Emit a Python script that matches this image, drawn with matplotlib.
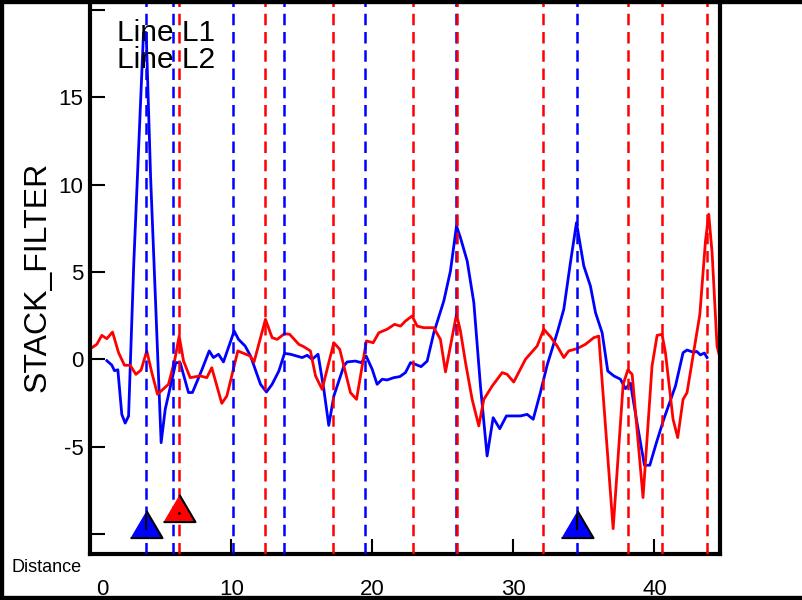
import matplotlib
matplotlib.use("Agg")
from matplotlib import pyplot as plt
from matplotlib.lines import Line2D

# trace L1 (blue)
dist_l1 = [1.16, 1.51, 1.70, 1.94, 2.22, 2.46, 2.70, 3.07, 3.76, 3.95, 4.26, 5.01, 5.30, 6.05,
           6.36, 6.95, 7.23, 7.90, 8.42, 8.72, 9.08, 9.43, 10.19, 10.50, 10.97, 11.35, 12.06,
           12.48, 12.88, 13.36, 13.76, 14.18, 15.01, 15.37, 15.72, 16.14, 16.55, 16.90, 17.26,
           17.97, 18.20, 18.79, 19.20, 19.55, 19.98, 20.33, 20.69, 21.04, 21.51, 21.94, 22.34,
           22.70, 23.05, 23.45, 23.88, 24.35, 25.06, 25.53, 25.96, 26.24, 26.72, 27.19, 27.66,
           28.13, 28.56, 29.03, 29.50, 30.50, 30.97, 31.40, 31.91, 32.40, 33.10, 33.57, 34.04,
           34.47, 34.99, 35.46, 35.82, 36.29, 36.69, 37.12, 37.59, 37.94, 38.30, 38.72, 39.29,
           39.67, 40.14, 40.66, 41.49, 42.03, 42.31, 42.78, 43.00, 43.26, 43.54, 43.73]
stack_l1 = [-0.08, -0.33, -0.65, -0.60, -3.15, -3.65, -3.25, 5.5, 18.7, 18.7, 10.5, -4.77, -2.86,
            -0.19, -0.19, -1.90, -1.90, -0.60, 0.48, 0.10, 0.29, -0.15, 1.62, 1.14, 0.76, 0.19,
            -1.43, -1.87, -1.43, -0.67, 0.34, 0.29, 0.10, 0.23, 0.00, 0.29, -1.72, -3.78, -2.10,
            -0.38, -0.15, -0.10, -0.19, 0.19, -0.57, -1.43, -1.14, -1.18, -1.05, -0.99, -0.76,
            -0.19, -0.29, -0.42, -0.10, 1.52, 3.34, 5.05, 7.63, 6.96, 5.62, 3.24, -1.53, -5.53,
            -3.34, -3.97, -3.24, -3.24, -3.15, -3.43, -1.90, -0.30, 1.52, 2.86, 5.53, 7.82, 5.34,
            4.19, 2.67, 1.52, -0.67, -0.95, -1.14, -1.68, -1.37, -3.43, -6.06, -6.06, -4.77,
            -3.43, -1.53, 0.38, 0.53, 0.40, 0.45, 0.25, 0.36, 0.10]

# trace L2 (red)
dist_l2 = [0.00, 0.45, 0.80, 1.16, 1.56, 1.99, 2.41, 2.81, 3.22, 3.59, 3.99, 4.35, 4.75, 5.53,
           5.96, 6.29, 6.60, 7.07, 7.78, 8.25, 8.60, 9.31, 9.67, 10.45, 11.32, 11.60, 12.41,
           12.88, 13.24, 13.76, 14.13, 14.77, 15.13, 15.60, 15.96, 16.43, 16.90, 17.26, 17.68,
           17.97, 18.44, 18.87, 19.57, 20.05, 20.45, 21.04, 21.56, 21.99, 22.34, 22.81, 23.17,
           23.64, 24.35, 24.82, 25.18, 25.53, 25.96, 26.24, 26.60, 27.07, 27.54, 27.90, 28.49,
           29.20, 29.55, 30.02, 30.85, 31.68, 32.15, 32.62, 33.10, 33.57, 33.92, 34.51, 35.11,
           35.70, 36.05, 37.07, 37.78, 38.11, 38.42, 39.19, 39.83, 40.19, 40.54, 40.78, 41.32,
           41.65, 42.03, 42.31, 43.22, 43.62, 43.85, 44.09, 44.44, 44.68]
stack_l2 = [0.61, 0.86, 1.37, 1.18, 1.56, 0.38, -0.34, -0.34, -0.86, -0.61, 0.48, -0.76, -2.00,
            -1.43, -0.10, 1.33, -0.10, -1.05, -0.95, -1.05, -0.48, -2.52, -2.10, 0.48, 0.19,
            -0.15, 2.29, 1.24, 1.14, 1.47, 1.43, 0.86, 0.72, 0.48, -0.95, -1.72, -0.19, 0.95,
            0.57, -0.38, -1.91, -2.29, 1.05, 0.95, 1.52, 1.72, 2.00, 1.90, 2.19, 2.48, 1.90, 1.81,
            1.81, 1.14, -0.72, 0.76, 2.57, 1.62, -0.19, -2.29, -3.81, -2.29, -1.53, -0.76, -0.86,
            -1.30, 0.00, 0.76, 1.72, 1.30, 0.76, 0.10, 0.48, 0.61, 0.86, 1.24, 1.33, -9.69, -1.43,
            -0.61, -0.86, -7.91, -0.38, 1.37, 1.43, 0.38, -3.43, -4.48, -2.29, -1.91, 2.57, 6.77,
            8.30, 6.10, 0.76, 0.00]

# picked positions (dashed verticals)
picks_l1 = [3.97, 5.82, 10.14, 13.76, 19.50, 25.93, 34.50]
picks_l2 = [6.31, 12.41, 17.23, 22.84, 26.00, 32.13, 38.09, 40.57, 43.76]

# triangle markers
marks_l1_x = [3.97, 34.50]
marks_l1_y = [-9.42, -9.42]
marks_l2_x = [6.31]
marks_l2_y = [-8.48]

x_ticks = [0, 10, 20, 30, 40]
x_tick_labels = ["", "10", "20", "30", "40"]
y_ticks = [-10, -5, 0, 5, 10, 15, 20]
y_tick_labels = ["", "-5", "0", "5", "10", "15", ""]

plt.rcParams["font.family"] = ["Liberation Sans", "DejaVu Sans"]

fig = plt.figure(figsize=(8.03, 6.0), dpi=100)
ax = fig.add_axes([90.5 / 803, 46 / 600, 629.5 / 803, 554 / 600])

ax.plot(dist_l1, stack_l1, color="blue", lw=2.0, zorder=2)
ax.plot(dist_l2, stack_l2, color="red", lw=2.0, zorder=2)

dash = (0, (4.6, 2.7))
for p in picks_l1:
    ax.axvline(p, color="blue", lw=1.8, linestyle=dash, zorder=3)
for p in picks_l2:
    ax.axvline(p, color="red", lw=1.8, linestyle=dash, zorder=3)

tri = [(-1, -0.85), (1, -0.85), (0, 0.85)]
ax.plot(marks_l1_x, marks_l1_y, linestyle="none", marker=tri, ms=23, mfc="blue",
        mec="black", mew=1.5, zorder=5)
ax.plot(marks_l1_x, [v + 0.12 for v in marks_l1_y], linestyle="none", marker="|", ms=11,
        mec="black", mew=1.5, zorder=6)
ax.plot(marks_l2_x, marks_l2_y, linestyle="none", marker=tri, ms=23, mfc="red",
        mec="black", mew=1.5, zorder=5)
ax.plot(marks_l2_x, [v - 0.3 for v in marks_l2_y], linestyle="none", marker=".", ms=2,
        color="black", zorder=6)

ax.set_xlim(0, 44.65)
ax.set_ylim(-11.14, 20.56)
ax.set_xticks(x_ticks)
ax.set_xticklabels(x_tick_labels)
ax.set_yticks(y_ticks)
ax.set_yticklabels(y_tick_labels)
ax.tick_params(axis="both", direction="in", length=11, width=1.5, labelsize=16)
ax.tick_params(axis="x", pad=18)
ax.tick_params(axis="y", pad=5)
# the "0" label sits a little right of its tick in the reference
ax.annotate("0", xy=(0, 0), xycoords=("data", "axes fraction"), xytext=(8.3, -18),
            textcoords="offset points", ha="center", va="top", fontsize=16)

for side in ["left", "bottom", "right"]:
    ax.spines[side].set_linewidth(3)
ax.spines["top"].set_visible(False)

ax.set_ylabel("STACK_FILTER", fontsize=23)
ax.yaxis.set_label_coords(-0.06, 0.5)

fig.text(117 / 803, 1 - 33 / 600, "Line L1", fontsize=21.5, va="center", ha="left")
fig.text(117 / 803, 1 - 60 / 600, "Line L2", fontsize=21.5, va="center", ha="left")
fig.text(12 / 803, 1 - 567 / 600, "Distance", fontsize=13, va="center", ha="left")

# frame round the figure (left, top, bottom)
fig.add_artist(Line2D([1, 0, 0, 1], [1, 1, 0, 0], transform=fig.transFigure,
                      color="black", lw=6, solid_joinstyle="miter"))

fig.savefig("out.png", dpi=100)
